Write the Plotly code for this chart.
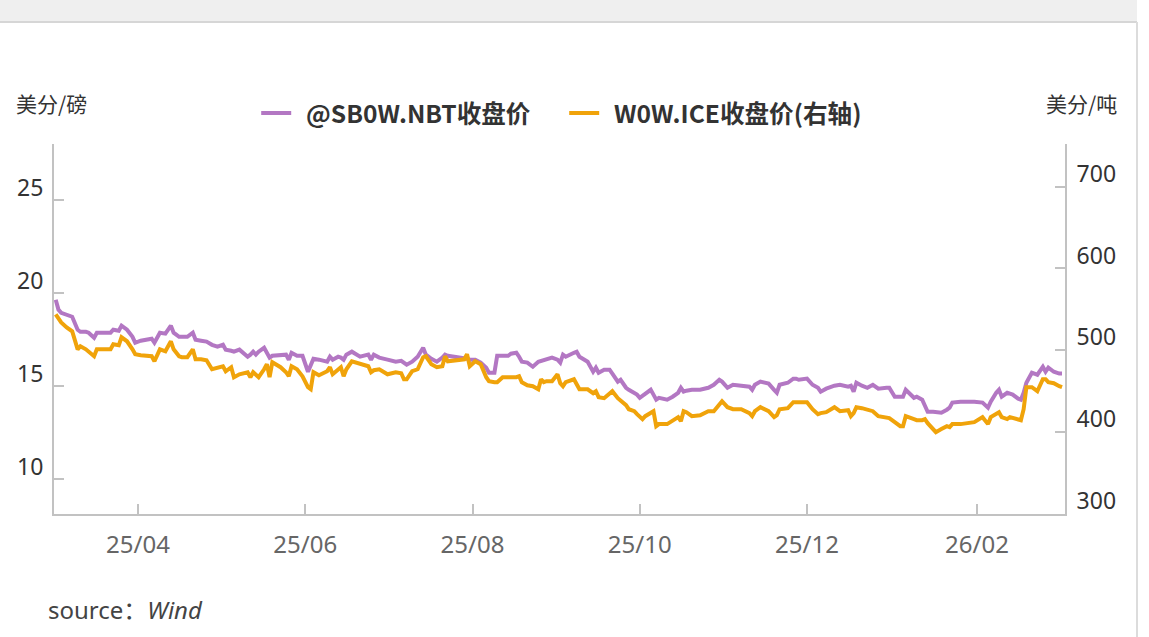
import plotly.graph_objects as go

dates = [
"2025-03-02","2025-03-03","2025-03-04","2025-03-06","2025-03-08","2025-03-10","2025-03-11","2025-03-13","2025-03-14","2025-03-16",
"2025-03-17","2025-03-19","2025-03-22","2025-03-23","2025-03-25","2025-03-26","2025-03-28","2025-03-30","2025-03-31","2025-04-02",
"2025-04-04","2025-04-06","2025-04-07","2025-04-09","2025-04-11","2025-04-13","2025-04-14","2025-04-16","2025-04-17","2025-04-19",
"2025-04-21","2025-04-22","2025-04-24","2025-04-26","2025-04-28","2025-04-30","2025-05-02","2025-05-03","2025-05-05","2025-05-06",
"2025-05-08","2025-05-11","2025-05-12","2025-05-13","2025-05-14","2025-05-15","2025-05-17","2025-05-18","2025-05-19","2025-05-20",
"2025-05-23","2025-05-25","2025-05-26","2025-05-27","2025-05-29","2025-05-31","2025-06-02","2025-06-03","2025-06-04","2025-06-06",
"2025-06-09","2025-06-10","2025-06-11","2025-06-13","2025-06-14","2025-06-15","2025-06-16","2025-06-18","2025-06-21","2025-06-24",
"2025-06-25","2025-06-26","2025-06-28","2025-07-01","2025-07-04","2025-07-06","2025-07-07","2025-07-08","2025-07-10","2025-07-12",
"2025-07-14","2025-07-15","2025-07-17","2025-07-19","2025-07-21","2025-07-22","2025-07-23","2025-07-26","2025-07-29","2025-07-30",
"2025-07-31","2025-08-02","2025-08-04","2025-08-06","2025-08-07","2025-08-09","2025-08-10","2025-08-12","2025-08-14","2025-08-15",
"2025-08-17","2025-08-18","2025-08-19","2025-08-21","2025-08-23","2025-08-25","2025-08-26","2025-08-27","2025-08-28","2025-08-30",
"2025-09-01","2025-09-02","2025-09-03","2025-09-04","2025-09-07","2025-09-08","2025-09-09","2025-09-12","2025-09-14","2025-09-15",
"2025-09-16","2025-09-18","2025-09-19","2025-09-20","2025-09-21","2025-09-23","2025-09-24","2025-09-25","2025-09-26","2025-09-27",
"2025-09-29","2025-09-30","2025-10-01","2025-10-02","2025-10-03","2025-10-05","2025-10-06","2025-10-07","2025-10-08","2025-10-11",
"2025-10-13","2025-10-15","2025-10-16","2025-10-17","2025-10-18","2025-10-20","2025-10-23","2025-10-26","2025-10-28","2025-10-30",
"2025-10-31","2025-11-02","2025-11-04","2025-11-07","2025-11-09","2025-11-10","2025-11-11","2025-11-12","2025-11-14","2025-11-17",
"2025-11-19","2025-11-20","2025-11-21","2025-11-24","2025-11-26","2025-11-27","2025-11-28","2025-12-01","2025-12-03","2025-12-05",
"2025-12-06","2025-12-08","2025-12-11","2025-12-13","2025-12-16","2025-12-17","2025-12-18","2025-12-19","2025-12-21","2025-12-23",
"2025-12-25","2025-12-27","2025-12-30","2025-12-31","2026-01-02","2026-01-04","2026-01-05","2026-01-06","2026-01-09","2026-01-10",
"2026-01-12","2026-01-13","2026-01-14","2026-01-16","2026-01-17","2026-01-19","2026-01-21","2026-01-22","2026-01-23","2026-01-26",
"2026-01-31","2026-02-03","2026-02-05","2026-02-06","2026-02-08","2026-02-09","2026-02-10","2026-02-12","2026-02-13","2026-02-14",
"2026-02-16","2026-02-17","2026-02-18","2026-02-19","2026-02-21","2026-02-23","2026-02-25","2026-02-26","2026-02-27","2026-03-01",
"2026-03-03","2026-03-04",
]

sb0w_nbt = [
19.62,19.09,18.92,18.82,18.71,18.01,17.90,17.90,17.85,17.58,
17.85,17.85,17.85,18.01,17.96,18.23,18.01,17.63,17.31,17.42,
17.47,17.53,17.31,17.85,17.80,18.23,17.85,17.63,17.63,17.63,
17.85,17.47,17.42,17.37,17.20,17.10,17.20,16.94,16.88,16.83,
16.94,16.56,16.67,16.83,16.67,16.83,17.04,16.77,16.51,16.61,
16.67,16.67,16.40,16.77,16.61,16.61,15.75,16.13,16.45,16.40,
16.29,16.56,16.40,16.56,16.51,16.40,16.67,16.83,16.56,16.67,
16.40,16.67,16.51,16.40,16.29,16.34,16.24,16.13,16.29,16.56,
17.04,16.67,16.45,16.29,16.51,16.67,16.61,16.56,16.51,16.45,
16.40,16.40,16.24,15.97,15.70,15.70,16.61,16.61,16.61,16.72,
16.77,16.56,16.29,16.24,16.02,16.29,16.34,16.40,16.45,16.51,
16.40,16.24,16.67,16.56,16.77,16.83,16.56,16.29,15.75,15.97,
15.70,15.86,15.86,15.86,15.65,15.22,15.32,15.11,14.89,14.78,
14.62,14.52,14.35,14.46,14.62,14.78,14.52,14.25,14.35,14.25,
14.41,14.62,14.89,14.68,14.73,14.78,14.78,14.89,15.05,15.32,
15.22,14.89,15.05,15.00,14.95,14.95,14.78,15.05,15.22,15.11,
14.78,14.62,15.05,15.16,15.38,15.38,15.32,15.38,15.05,14.89,
14.68,14.84,15.00,15.05,14.95,15.00,14.68,15.16,15.00,14.89,
15.05,14.84,14.89,14.89,14.41,14.41,14.41,14.78,14.35,14.41,
14.25,13.92,13.60,13.60,13.60,13.55,13.71,13.82,14.09,14.14,
14.14,14.09,13.82,14.14,14.62,14.78,14.41,14.62,14.57,14.52,
14.30,14.25,14.62,15.16,15.70,15.59,16.02,15.75,15.97,15.75,
15.65,15.65,
]

w0w_ice = [
543.9,537.8,534.1,528.0,523.2,501.2,504.9,501.2,498.8,492.7,
501.2,501.2,501.2,507.3,506.1,515.9,511.0,501.2,495.1,493.9,
493.9,492.7,486.6,501.2,498.8,511.0,501.2,492.7,491.5,491.5,
501.2,489.0,489.0,487.8,476.8,479.3,480.5,474.4,479.3,467.1,
470.7,473.2,467.1,473.2,469.5,467.1,476.8,482.9,467.1,485.4,
479.3,473.2,468.3,480.5,476.8,468.3,454.9,452.4,473.2,469.5,
474.4,479.3,470.7,475.6,479.3,468.3,476.8,486.6,482.9,480.5,
473.2,475.6,476.8,470.7,473.2,472.0,464.6,464.6,474.4,476.8,
491.5,492.7,482.9,479.3,480.5,492.7,486.6,487.8,489.0,495.1,
480.5,486.6,482.9,467.1,462.2,461.0,461.0,467.1,467.1,465.9,
467.1,468.3,461.0,457.3,456.1,452.4,464.6,461.0,462.2,462.2,
470.7,459.8,456.1,461.0,464.6,458.5,452.4,452.4,447.6,450.0,
442.7,441.5,443.9,447.6,450.0,441.5,439.0,436.6,432.9,428.0,
425.6,422.0,418.3,415.9,419.5,424.4,425.6,407.3,409.8,409.8,
413.4,418.3,413.4,425.6,424.4,419.5,420.7,425.6,425.6,434.1,
437.8,430.5,428.0,428.0,425.6,423.2,419.5,425.6,430.5,425.6,
418.3,420.7,428.0,429.3,436.6,436.6,436.6,436.6,428.0,422.0,
423.2,424.4,430.5,425.6,426.8,419.5,423.2,430.5,429.3,428.0,
425.6,419.5,418.3,417.1,412.2,407.3,407.3,419.5,415.9,414.6,
414.6,415.9,411.0,403.7,400.0,403.7,407.3,406.1,409.8,409.8,
412.2,418.3,409.8,418.3,422.0,424.4,418.3,415.9,418.3,417.1,
414.6,414.6,428.0,454.9,454.9,450.0,464.6,464.6,461.0,459.8,
456.1,454.9,
]

x_tick_vals = ["2025-04-01","2025-06-01","2025-08-01","2025-10-01","2025-12-01","2026-02-01"]
x_tick_text = ["25/04","25/06","25/08","25/10","25/12","26/02"]
left_ticks = [10, 15, 20, 25]
right_ticks = [300, 400, 500, 600, 700]

name_sb = "@SB0W.NBT收盘价"
name_w = "W0W.ICE收盘价(右轴)"

FONT = "Noto Sans, Noto Sans CJK SC, sans-serif"
FONT_CJK = "Noto Sans CJK SC, Noto Sans, sans-serif"
PURPLE = "#b377c3"
ORANGE = "#f0a30a"
AXIS = "#c2c2c2"
TXT = "#333333"
XTXT = "#666666"

fig = go.Figure()
fig.add_trace(go.Scatter(x=dates, y=sb0w_nbt, name="\u2009\u2009<b>" + name_sb + "</b>", mode="lines",
                         line=dict(color=PURPLE, width=4), yaxis="y"))
fig.add_trace(go.Scatter(x=dates, y=w0w_ice, name="\u2009\u2009<b>" + name_w + "</b>", mode="lines",
                         line=dict(color=ORANGE, width=4), yaxis="y2"))

fig.update_layout(
    width=1149, height=637,
    margin=dict(l=54, r=84, t=144, b=123),
    paper_bgcolor="white", plot_bgcolor="white",
    font=dict(family=FONT, color=TXT, size=22),
    showlegend=True,
    legend=dict(orientation="h", x=0.200, xanchor="left", y=1.084, yanchor="middle",
                font=dict(size=24.6, color="#333333", family=FONT_CJK),
                bgcolor="rgba(0,0,0,0)", itemwidth=30, entrywidth=263, traceorder="normal"),
    xaxis=dict(type="date", range=["2025-03-01 09:00", "2026-03-05 02:00"],
               tickvals=x_tick_vals, ticktext=x_tick_text,
               showline=True, linecolor=AXIS, linewidth=2,
               ticks="inside", ticklen=10, tickwidth=1.5, tickcolor=AXIS,
               showgrid=False, zeroline=False,
               tickfont=dict(size=24, color=XTXT, family=FONT), ticklabelstandoff=8),
    yaxis=dict(range=[8.1, 28.0], tickvals=left_ticks,
               showline=True, linecolor=AXIS, linewidth=2,
               ticks="inside", ticklen=10, tickwidth=1.5, tickcolor=AXIS,
               showgrid=False, zeroline=False,
               ticklabelposition="outside top", ticklabelshift=5, ticklabelstandoff=4,
               tickfont=dict(size=23, color=TXT, family=FONT)),
    yaxis2=dict(range=[300, 752], tickvals=right_ticks, overlaying="y", side="right",
                showline=True, linecolor=AXIS, linewidth=2,
                ticks="inside", ticklen=10, tickwidth=1.5, tickcolor=AXIS,
                showgrid=False, zeroline=False,
                ticklabelposition="outside top", ticklabelshift=4, ticklabelstandoff=5,
                tickfont=dict(size=23, color=TXT, family=FONT)),
    shapes=[
        dict(type="rect", xref="paper", yref="paper", x0=-54/1011, x1=(1137-54)/1011,
             y0=1 + (144-21)/370, y1=1 + 144/370, fillcolor="#efefef", line=dict(width=0), layer="above"),
        dict(type="line", xref="paper", yref="paper", x0=-54/1011, x1=(1137-54)/1011,
             y0=1 + (144-22)/370, y1=1 + (144-22)/370, line=dict(color="#d6d6d6", width=2)),
        dict(type="line", xref="paper", yref="paper", x0=(1137-54)/1011, x1=(1137-54)/1011,
             y0=-123/370, y1=1 + (144-22)/370, line=dict(color="#dcdcdc", width=2)),
    ],
    annotations=[
        dict(text="美分/磅", xref="paper", yref="paper", x=(14-54)/1011, y=1 + (144-103)/370,
             xanchor="left", yanchor="middle", showarrow=False,
             font=dict(size=21, color=TXT, family=FONT_CJK)),
        dict(text="美分/吨", xref="paper", yref="paper", x=(1119-54)/1011, y=1 + (144-103)/370,
             xanchor="right", yanchor="middle", showarrow=False,
             font=dict(size=21, color=TXT, family=FONT_CJK)),
        dict(text="source：<i>Wind</i>", xref="paper", yref="paper", x=(46-54)/1011, y=-(609-514)/370,
             xanchor="left", yanchor="middle", showarrow=False,
             font=dict(size=24, color="#444444", family=FONT)),
    ],
)

fig.write_html("out.html", config={"displayModeBar": False},
               post_script="document.body.style.margin='0';document.body.style.overflow='hidden';")
